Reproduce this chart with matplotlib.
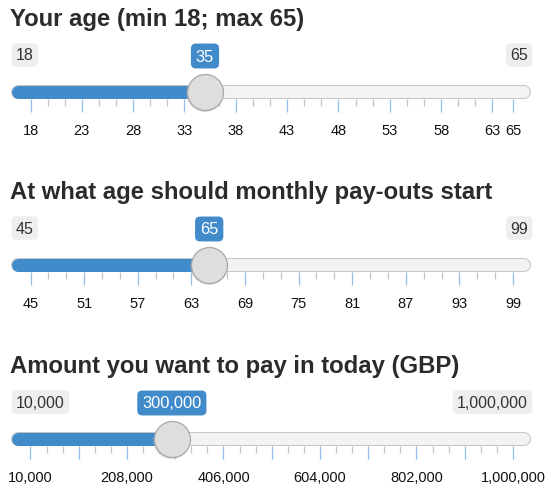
import matplotlib
matplotlib.use("Agg")
import matplotlib.pyplot as plt
from matplotlib.transforms import blended_transform_factory

plt.rcParams['font.family'] = ['Liberation Sans', 'DejaVu Sans']

# ---------------- data ----------------
titles = ["Your age (min 18; max 65)",
          "At what age should monthly pay-outs start",
          "Amount you want to pay in today (GBP)"]
mins = [18, 45, 10000]
maxs = [65, 99, 1000000]
values = [35, 65, 300000]
major_ticks = [
    [18, 23, 28, 33, 38, 43, 48, 53, 58, 63, 65],
    [45, 51, 57, 63, 69, 75, 81, 87, 93, 99],
    [10000, 109000, 208000, 307000, 406000, 505000, 604000, 703000, 802000, 901000, 1000000],
]
labeled_ticks = [
    [18, 23, 28, 33, 38, 43, 48, 53, 58, 63, 65],
    [45, 51, 57, 63, 69, 75, 81, 87, 93, 99],
    [10000, 208000, 406000, 604000, 802000, 1000000],
]

# ---------------- layout ----------------
W, H = 549, 489
PX = 0.72            # points per pixel at dpi=100
X0, X1 = 30.5, 513   # pixel positions of min / max values
TL, TR = 11, 531     # track extent (px)
track_y = [93, 266, 440]
BLUE = '#428bca'


def fmt(v):
    return "{:,}".format(v)


fig = plt.figure(figsize=(W / 100, H / 100), dpi=100)
fig.patch.set_facecolor('white')

for i in range(3):
    ax = fig.add_axes([0, 0, 1, 1])
    ax.set_axis_off()
    ax.patch.set_alpha(0)
    vmin, vmax, val = mins[i], maxs[i], values[i]
    ppu = (X1 - X0) / (vmax - vmin)
    ax.set_xlim(vmin - X0 / ppu, vmin + (W - X0) / ppu)
    ax.set_ylim(H, 0)
    T = track_y[i]
    tx = blended_transform_factory(ax.transAxes, ax.transData)

    # title
    ax.text(10 / W, T - 67, titles[i], transform=tx, fontsize=17.2,
            fontweight='bold', color='#2b2b2b', ha='left', va='baseline')

    # track (border + fill)
    ax.plot([(TL + 7) / W, (TR - 7) / W], [T, T], transform=tx,
            lw=14 * PX, color='#c6c6c6', solid_capstyle='round', zorder=1)
    ax.plot([(TL + 7) / W, (TR - 7) / W], [T, T], transform=tx,
            lw=12 * PX, color='#f3f3f3', solid_capstyle='round', zorder=1.1)
    # filled part
    left_val = vmin - (X0 - (TL + 7)) / ppu
    ax.plot([left_val, val], [T, T], lw=13 * PX, color=BLUE,
            solid_capstyle='round', zorder=2)

    # ticks
    maj = major_ticks[i]
    step = maj[1] - maj[0]
    minor = []
    for a, b in zip(maj[:-1], maj[1:]):
        if abs((b - a) - step) < 1e-9:
            minor += [a + (b - a) / 3, a + 2 * (b - a) / 3]
    ax.vlines(minor, T + 7, T + 14, colors='#c4c4c4', lw=1.3 * PX, zorder=1)
    ax.vlines(maj, T + 7, T + 20, colors='#96bfe6', lw=1.3 * PX, zorder=1)
    for v in labeled_ticks[i]:
        ax.text(v, T + 38, fmt(v), ha='center', va='center',
                fontsize=14.5 * PX, color='#111111')

    # min / max labels
    box_grey = dict(boxstyle='round,pad=0.27,rounding_size=0.3',
                    fc='#eeeeee', ec='none')
    ax.text(16 / W, T - 37, fmt(vmin), transform=tx, ha='left', va='center',
            fontsize=16 * PX, color='#333333', bbox=box_grey)
    ax.text(528 / W, T - 37, fmt(vmax), transform=tx, ha='right', va='center',
            fontsize=16 * PX, color='#333333', bbox=box_grey)

    # value label
    box_blue = dict(boxstyle='round,pad=0.3,rounding_size=0.3',
                    fc=BLUE, ec='none')
    ax.text(val, T - 36, fmt(val), ha='center', va='center',
            fontsize=16.5 * PX, color='white', bbox=box_blue, zorder=4)

    # handle (shadow + circle)
    ax.scatter([val], [T + 1.5], s=(37 * PX) ** 2, c='#bbbbbb', alpha=0.5,
               edgecolors='none', zorder=4)
    ax.scatter([val], [T], s=(36 * PX) ** 2, c='#dedede',
               edgecolors='#a6a6a6', linewidths=1.2 * PX, zorder=5)

fig.savefig('out.png', dpi=100)
